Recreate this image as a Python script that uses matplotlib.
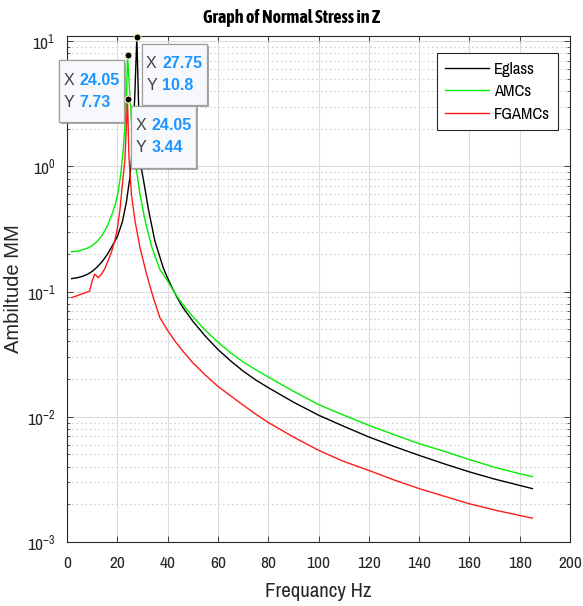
import numpy as np
import matplotlib
matplotlib.use("Agg")
import matplotlib.pyplot as plt
import matplotlib.patheffects as pe
from matplotlib.offsetbox import TextArea, HPacker, VPacker, DrawingArea, AnnotationBbox

############################ DATA ############################
freq_eglass = [1.85, 4, 6, 8, 10, 12, 14, 16, 18, 20, 22, 23.6, 25.0, 25.6, 26.9, 27.75, 28.6, 29.6,
               30.9, 32.3, 34.9, 38.2, 40, 42, 44, 46, 50, 55, 60, 65, 70, 75, 80, 90, 100, 110,
               120, 130, 140, 150, 160, 170, 180, 185]
amp_eglass = [0.127, 0.129, 0.132, 0.137, 0.145, 0.157, 0.174, 0.198, 0.232, 0.275, 0.36, 0.52, 0.82,
              1.12, 3.5, 10.8, 2.4, 0.95, 0.68, 0.46, 0.255, 0.156, 0.128, 0.105, 0.088, 0.075,
              0.058, 0.044, 0.0345, 0.028, 0.0232, 0.0197, 0.0171, 0.0131, 0.0103, 0.0084, 0.0069,
              0.0058, 0.00492, 0.00421, 0.00363, 0.00318, 0.00283, 0.00267]

freq_amc = [1.85, 4, 6, 8, 10, 12, 14, 16, 18, 19.2, 20.3, 21.4, 22.4, 23.6, 24.05, 25.6, 27.6, 29.0,
            30.9, 33.6, 36.9, 39.6, 42, 44, 46, 50, 55, 60, 65, 70, 75, 80, 90, 100, 110, 120,
            130, 140, 150, 160, 170, 180, 185]
amp_amc = [0.208, 0.21, 0.215, 0.222, 0.233, 0.252, 0.283, 0.333, 0.42, 0.5, 0.62, 0.88, 1.4, 3.2,
           7.73, 2.3, 0.93, 0.60, 0.38, 0.23, 0.15, 0.125, 0.104, 0.09, 0.079, 0.063, 0.049, 0.0395,
           0.0325, 0.0275, 0.0238, 0.0208, 0.0160, 0.01253, 0.0103, 0.00855, 0.0072, 0.0061,
           0.0053, 0.00455, 0.00395, 0.00351, 0.00333]

freq_fgamc = [1.85, 5.7, 9.0, 10.0, 11.0, 12.4, 13.7, 15, 16.3, 17.6, 19.0, 20, 21.0, 22.3, 23.0,
              24.05, 24.6, 25.6, 27.0, 29.0, 31.6, 34.3, 36.9, 40, 43, 46.3, 50, 55, 60, 65, 70,
              75, 80, 90, 100, 110, 120, 130, 140, 150, 160, 170, 180, 185]
amp_fgamc = [0.0895, 0.0953, 0.101, 0.122, 0.138, 0.129, 0.138, 0.152, 0.176, 0.205, 0.255, 0.32,
             0.444, 0.82, 1.12, 3.44, 1.2, 0.60, 0.369, 0.225, 0.138, 0.0895, 0.062, 0.049, 0.04,
             0.033, 0.027, 0.0215, 0.0175, 0.0147, 0.0124, 0.0105, 0.0090, 0.0069, 0.0054, 0.0044,
             0.00373, 0.00313, 0.00267, 0.00232, 0.00202, 0.0018, 0.00163, 0.00155]

series_names = ["Eglass", "AMCs", "FGAMCs"]
x_ticks = [0, 20, 40, 60, 80, 100, 120, 140, 160, 180, 200]

############################ STYLE ############################
narrow = ['Archivo Narrow', 'Liberation Sans', 'DejaVu Sans']
plt.rcParams['font.family'] = narrow
plt.rcParams['mathtext.fontset'] = 'custom'
plt.rcParams['mathtext.rm'] = 'Archivo Narrow'
plt.rcParams['mathtext.it'] = 'Archivo Narrow'
plt.rcParams['mathtext.bf'] = 'Archivo Narrow'
plt.rcParams['axes.unicode_minus'] = False

dark = '#262626'
colours = ['#000000', '#00ee00', '#ff1a1a']
tip_offsets = [(27, -27), (-26, -26), (26, -27)]  # points, for Eglass, AMCs, FGAMCs tips

fig = plt.figure(figsize=(5.83, 6.06), dpi=100)
ax = fig.add_axes([0.115, 0.1056, 0.8628, 0.835])

series = [(freq_eglass, amp_eglass), (freq_amc, amp_amc), (freq_fgamc, amp_fgamc)]
for (f, a), name, c in zip(series, series_names, colours):
    ax.plot(f, a, color=c, lw=1.0, label=name)

ax.set_yscale('log')
ax.set_xlim(0, 200)
ax.set_ylim(1e-3, 11)
ax.set_xticks(x_ticks)

ax.grid(True, which='major', color='#dcdcdc', lw=0.8)
ax.grid(True, which='minor', axis='y', color='#d0d0d0', lw=0.8, linestyle=(0, (1.5, 2.5)))
ax.tick_params(which='both', direction='in', top=True, right=True, colors=dark, labelsize=12.5)
ax.tick_params(which='major', length=4, width=0.6)
ax.tick_params(axis='x', which='major', pad=10)
ax.tick_params(axis='y', which='major', pad=8)
ax.tick_params(which='minor', length=2.5, width=0.5)
for s in ax.spines.values():
    s.set_color(dark)
    s.set_linewidth(0.8)

# title is centred on the figure, as in the reference
fig.text(0.5, 0.971, 'Graph of Normal Stress in Z', fontsize=13, fontweight='bold', color='black',
         ha='center', va='center', family=['Asap Condensed', 'Liberation Sans'])
ax.set_xlabel('Frequancy Hz', fontsize=15, color=dark, labelpad=8)
ax.set_ylabel('Ambiltude MM', fontsize=14.5, color=dark, family=['Liberation Sans'])
ax.yaxis.set_label_coords(-0.088, 0.5)

leg = ax.legend(loc='upper right', bbox_to_anchor=(0.976, 0.9656), borderaxespad=0,
                fontsize=12, handlelength=2.6, handletextpad=0.3, labelspacing=0.45,
                fancybox=False, framealpha=1, edgecolor=dark, borderpad=0.5)
leg.get_frame().set_linewidth(0.8)

# data tips at the peak of each curve
for (f, a), c, (dx, dy) in zip(series, colours, tip_offsets):
    k = int(np.argmax(a))
    xp, yp = f[k], a[k]
    ax.plot(xp, yp, 'o', ms=5, mfc='black', mec='#f4f0c0', mew=0.8, zorder=6, clip_on=False)
    props_l = dict(fontsize=11.5, color='#404040', family=['Liberation Sans'], linespacing=1.55)
    props_v = dict(fontsize=11.5, color='#1e96ff', fontweight='bold', family=['Liberation Sans'],
                   linespacing=1.55)
    lab = TextArea('X\nY', textprops=props_l)
    val = TextArea(f'{xp:.2f}\n{yp:.3g}', textprops=props_v)
    row = HPacker(children=[lab, val], sep=4, align='center')
    box = VPacker(children=[DrawingArea(1, 6), row, DrawingArea(1, 6)], sep=0, align='center')
    ab = AnnotationBbox(box, (xp, yp), xybox=(dx, dy), boxcoords='offset points',
                        box_alignment=(0.5, 0.5), pad=0.65, frameon=True,
                        bboxprops=dict(boxstyle='square', fc='#f7f8fc', ec='#a0a0a0', lw=0.9))
    ab.patch.set_path_effects([pe.withSimplePatchShadow(offset=(1.5, -1.5), shadow_rgbFace='#707070',
                                                        alpha=0.6), pe.Normal()])
    ab.set_zorder(5)
    ax.add_artist(ab)

fig.savefig('out.png', dpi=100)
